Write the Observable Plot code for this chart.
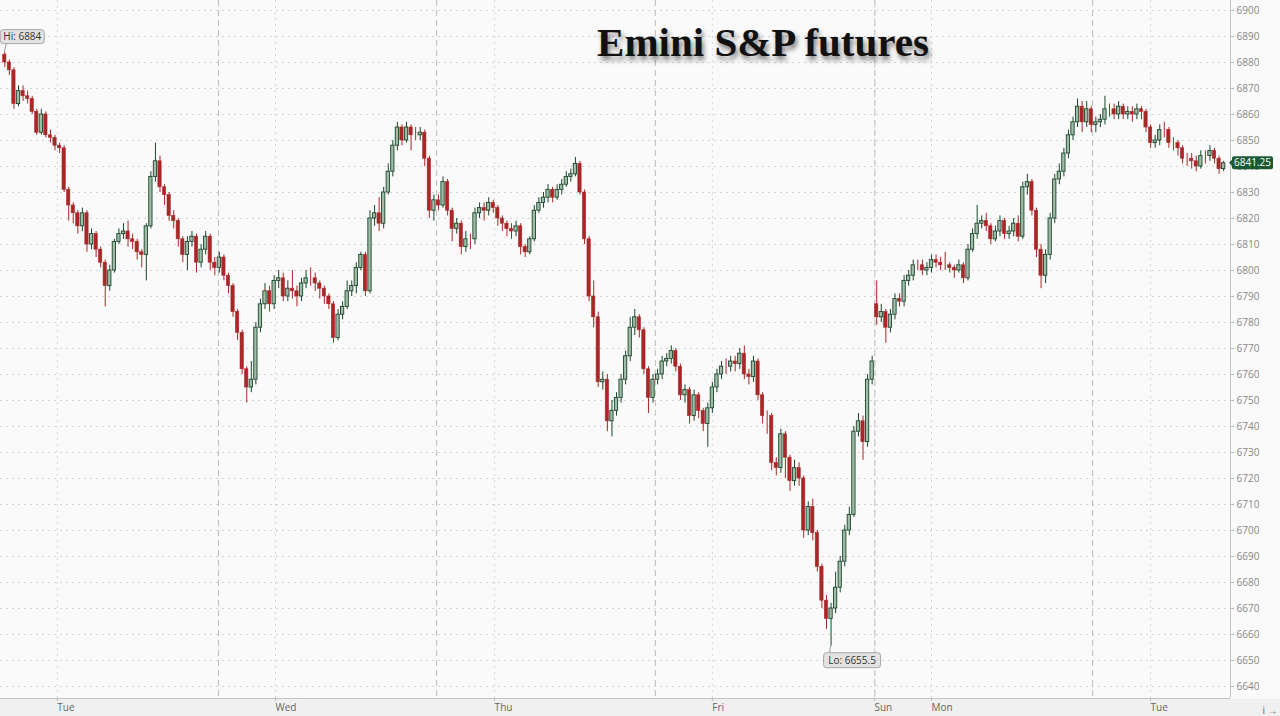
<!DOCTYPE html>
<html><head><meta charset="utf-8">
<script src="https://cdn.jsdelivr.net/npm/d3@7"></script>
<script src="https://cdn.jsdelivr.net/npm/@observablehq/plot@0.6"></script>
<style>
html,body{margin:0;padding:0;background:#fafafa;}
#wrap{position:relative;width:1280px;height:716px;overflow:hidden;background:#fafafa;}
#strip{position:absolute;left:0;top:699px;width:1280px;height:17px;background:#f0f0f0;}
#chart{position:absolute;left:0;top:0;}
#title{position:absolute;left:513px;width:500px;top:18px;text-align:center;font-family:"Liberation Serif","DejaVu Serif",serif;font-weight:bold;font-size:41px;line-height:48px;color:#111;text-shadow:2px 4px 5px rgba(0,0,0,0.5);}
</style>
</head><body>
<div id="wrap"><div id="strip"></div><div id="chart"></div><div id="title">Emini S&amp;P futures</div></div>
<script>
// 30-minute candles, Mon 18:00 ET -> Tue morning
const close = [
6880,6877,6864,6869,6867,6866,6861,6853,6860,6852,
6851,6848,6847,6831,6825,6822,6817,6822,6810,6814,
6808,6803,6794,6800,6811,6814,6815,6812,6811,6807,
6806,6817,6836,6842,6832,6829,6821,6819,6812,6806,
6811,6813,6803,6808,6813,6803,6801,6805,6798,6794,
6784,6776,6762,6755,6758,6778,6787,6792,6787,6796,
6797,6790,6793,6792,6790,6795,6797,6797,6795,6793,
6790,6787,6774,6783,6786,6792,6794,6801,6806,6792,
6820,6822,6818,6830,6838,6848,6855,6850,6855,6852,
6852,6853,6843,6823,6827,6825,6834,6823,6816,6818,
6809,6812,6812,6822,6824,6823,6826,6824,6820,6818,
6816,6815,6817,6809,6807,6812,6823,6826,6828,6831,
6828,6831,6833,6836,6837,6841,6830,6812,6790,6782,
6757,6758,6742,6746,6751,6758,6767,6778,6782,6777,
6762,6751,6758,6760,6765,6766,6769,6763,6752,6754,
6744,6752,6746,6741,6747,6755,6760,6763,6763,6765,
6764,6768,6760,6759,6765,6752,6744,6744,6726,6724,
6737,6728,6719,6724,6720,6700,6709,6699,6686,6673,
6666,6670,6678,6688,6700,6706,6738,6742,6734,6758,
6765,6782,6784,6778,6783,6789,6788,6796,6798,6802,
6802,6800,6801,6804,6803,6802,6802,6801,6800,6802,
6797,6808,6814,6818,6819,6817,6812,6815,6819,6814,
6815,6818,6813,6832,6834,6823,6808,6798,6806,6820,
6835,6838,6845,6852,6857,6863,6857,6862,6856,6857,
6858,6862,6862,6860,6863,6860,6861,6860,6862,6861,
6855,6849,6850,6854,6854,6849,6849,6847,6843,6843,
6842,6840,6844,6844,6846,6843,6839,6841.25];
const high = [
6884,6881,6878,6871,6871,6869,6867,6862,6862,6861,
6854,6852,6849,6848,6832,6826,6823,6824,6823,6816,
6815,6809,6804,6802,6812,6816,6818,6819,6814,6812,
6808,6818,6838,6849,6844,6833,6830,6823,6820,6813,
6813,6815,6814,6810,6815,6814,6805,6807,6806,6799,
6795,6785,6777,6763,6765,6780,6789,6795,6794,6798,
6800,6799,6796,6800,6794,6797,6800,6801,6799,6796,
6794,6791,6788,6785,6788,6796,6796,6803,6807,6807,
6823,6825,6828,6832,6841,6850,6857,6856,6857,6856,
6855,6855,6854,6844,6829,6829,6836,6835,6824,6820,
6819,6815,6814,6824,6826,6826,6828,6827,6825,6821,
6819,6818,6819,6818,6810,6813,6825,6828,6830,6833,
6832,6833,6835,6838,6839,6843.5,6842,6831,6813,6796,
6784,6761,6760,6750,6753,6760,6769,6782,6785,6783,
6778,6763,6760,6762,6767,6768,6771,6770,6764,6756,
6755,6754,6753,6747,6749,6757,6762,6765,6766,6767,
6767,6770,6771,6762,6767,6766,6753,6746,6745,6728,
6739,6738,6729,6727,6726,6721,6711,6712,6700,6687,
6675,6672,6684,6690,6702,6709,6740,6745,6744,6760,
6767,6796,6787,6785,6785,6791,6791,6798,6800,6804,
6804,6804,6803,6806,6806,6805,6807,6803,6802,6804,
6803,6810,6816,6825,6821,6822,6818,6817,6821,6820,
6817,6820,6821,6834,6837,6835,6824,6810,6808,6822,
6837,6841,6847,6854,6859,6866,6865,6865,6863,6859,
6860,6867,6864,6864,6865,6864,6863,6863,6864,6863,
6862,6856,6852,6856,6857,6855,6851,6850,6848,6845,
6845,6844,6846,6846,6848,6847,6844,6842];
const low = [
6878,6875,6862,6863,6865,6864,6860,6852,6852,6851,
6849,6846,6845,6830,6819,6818,6814,6815,6807,6808,
6805,6801,6786,6792,6799,6810,6812,6809,6808,6804,
6801,6796,6816,6834,6830,6825,6819,6816,6809,6803,
6800,6809,6799,6801,6806,6800,6798,6799,6796,6791,
6782,6773,6760,6749,6753,6756,6776,6785,6784,6785,
6793,6788,6788,6789,6786,6788,6793,6794,6792,6789,
6787,6785,6772,6773,6781,6785,6790,6791,6800,6790,
6791,6817,6815,6816,6829,6836,6846,6848,6849,6846,
6850,6850,6840,6820,6819,6823,6824,6821,6811,6814,
6806,6807,6808,6810,6820,6819,6821,6822,6817,6815,
6813,6812,6813,6806,6805,6806,6811,6822,6824,6826,
6826,6827,6829,6832,6834,6836,6829,6810,6788,6778,
6755,6754,6738,6736,6744,6749,6756,6765,6775,6774,
6760,6745,6749,6756,6758,6763,6764,6761,6750,6749,
6741,6742,6743,6738,6732,6745,6753,6758,6760,6761,
6761,6762,6758,6756,6757,6750,6741,6737,6723,6721,
6722,6720,6715,6717,6717,6697,6698,6696,6684,6670,
6662,6655.5,6668,6676,6686,6698,6705,6736,6727,6732,
6756,6779,6780,6772,6776,6781,6786,6786,6794,6796,
6800,6798,6798,6799,6801,6800,6800,6799,6797,6799,
6795,6796,6807,6812,6816,6815,6810,6811,6813,6812,
6812,6813,6811,6812,6829,6821,6805,6793,6795,6804,
6818,6833,6836,6843,6850,6855,6853,6855,6853,6853,
6855,6856,6859,6858,6858,6858,6858,6857,6858,6858,
6853,6847,6847,6848,6851,6847,6846,6844,6841,6840,
6839,6838,6839,6841,6842,6841,6837,6838];
// session opens that do not follow the previous close (start, weekend gap)
const gapIndex = [0, 191];
const gapOpen = [6883, 6787];

const yTicks = d3.range(6640, 6901, 10);
const dayLabels = ["Tue", "Wed", "Thu", "Fri", "Sun", "Mon", "Tue"];
const dayTickIdx = [11.5, 59.3, 107.3, 155, 190.5, 203, 251];
const sessionIdx = [46.8, 94.6, 142.5, 190.6, 238.3];
const hiValue = 6884, hiIdx = 0;
const loValue = 6655.5, loIdx = 181;
const lastValue = 6841.25;

const candles = close.map((c, i) => {
  const g = gapIndex.indexOf(i);
  const o = g >= 0 ? gapOpen[g] : close[i - 1];
  return {i, open: o, close: c, high: high[i], low: low[i], up: c > o};
});
const ups = candles.filter(d => d.up), downs = candles.filter(d => !d.up);
const xDom = [-0.942, 268.5], yDom = [6635.38, 6903.85];
const tickLabel = new Map(dayTickIdx.map((d, k) => [d, dayLabels[k]]));

const RED = "#a8282a", GFILL = "#a0bca9", GSTROKE = "#1a4629";
const plot = Plot.plot({
  width: 1280, height: 716,
  marginLeft: 0, marginRight: 50, marginTop: 0, marginBottom: 18,
  style: {background: "transparent", fontFamily: "'Open Sans', 'Noto Sans', sans-serif", fontSize: "10px", color: "#888"},
  x: {domain: xDom, axis: null},
  y: {domain: yDom, axis: null},
  marks: [
    Plot.ruleY(yTicks, {stroke: "#d4d4d4", strokeDasharray: "2,4"}),
    Plot.ruleX(dayTickIdx, {stroke: "#d4d4d4", strokeDasharray: "2,4"}),
    Plot.ruleX(sessionIdx, {stroke: "#bcbcbc", strokeDasharray: "6,4"}),
    Plot.ruleX(downs, {x: "i", y1: "low", y2: "high", stroke: RED, strokeWidth: 1}),
    Plot.ruleX(ups, {x: "i", y1: "low", y2: "high", stroke: GSTROKE, strokeWidth: 1}),
    Plot.rect(downs, {x1: d => d.i - 0.36, x2: d => d.i + 0.36, y1: "open", y2: "close", fill: RED, stroke: RED, strokeWidth: 0.6}),
    Plot.rect(ups, {x1: d => d.i - 0.36, x2: d => d.i + 0.36, y1: "open", y2: "close", fill: GFILL, stroke: GSTROKE, strokeWidth: 0.9}),
    Plot.ruleX([xDom[1]], {stroke: "#c4c4c4"}),
    Plot.ruleY([yDom[0]], {stroke: "#c4c4c4"}),
    Plot.axisY(yTicks, {anchor: "right", tickSize: 3, tickPadding: 3, stroke: "#bbb", fill: "#888", fontSize: 10, tickFormat: d => String(d)}),
    Plot.axisX(dayTickIdx, {anchor: "bottom", tickSize: 3, tickPadding: 2, stroke: "#bbb", fill: "#666", fontSize: 10, textAnchor: "start", dx: 0, tickFormat: d => tickLabel.get(d) ?? ""})
  ]
});
document.getElementById("chart").appendChild(plot);

const sx = plot.scale("x"), sy = plot.scale("y");
const svg = d3.select(plot);
const ann = svg.append("g").attr("font-family", "'Open Sans', 'Noto Sans', sans-serif").attr("font-size", 10);

function label(px, py, bx, by, w, h, text) {
  ann.append("line").attr("x1", px).attr("y1", py).attr("x2", bx + 6).attr("y2", by + (by > py ? 0 : h))
    .attr("stroke", "#999").attr("stroke-width", 1);
  ann.append("rect").attr("x", bx).attr("y", by).attr("width", w).attr("height", h).attr("rx", 3)
    .attr("fill", "#e2e2e2").attr("stroke", "#a8a8a8");
  ann.append("text").attr("x", bx + w / 2).attr("y", by + h / 2).attr("dy", "0.35em")
    .attr("text-anchor", "middle").attr("fill", "#333").text(text);
}
{
  const px = sx.apply(hiIdx), py = sy.apply(hiValue);
  label(px, py, px - 4, py - 22, 44, 14, "Hi: " + hiValue);
}
{
  const px = sx.apply(loIdx), py = sy.apply(loValue);
  label(px, py, px - 7, py + 7, 57, 15, "Lo: " + loValue);
}
{
  const py = sy.apply(lastValue), bx = 1232;
  ann.append("path").attr("d", `M${bx - 3},${py} L${bx + 1},${py - 4} L${bx + 1},${py + 4} Z`).attr("fill", "#1b5a33");
  ann.append("rect").attr("x", bx).attr("y", py - 6.5).attr("width", 41).attr("height", 13).attr("rx", 2).attr("fill", "#1b5a33");
  ann.append("text").attr("x", bx + 20.5).attr("y", py).attr("dy", "0.35em").attr("text-anchor", "middle")
    .attr("fill", "#fff").text(lastValue.toFixed(2));
}
</script>
</body></html>
